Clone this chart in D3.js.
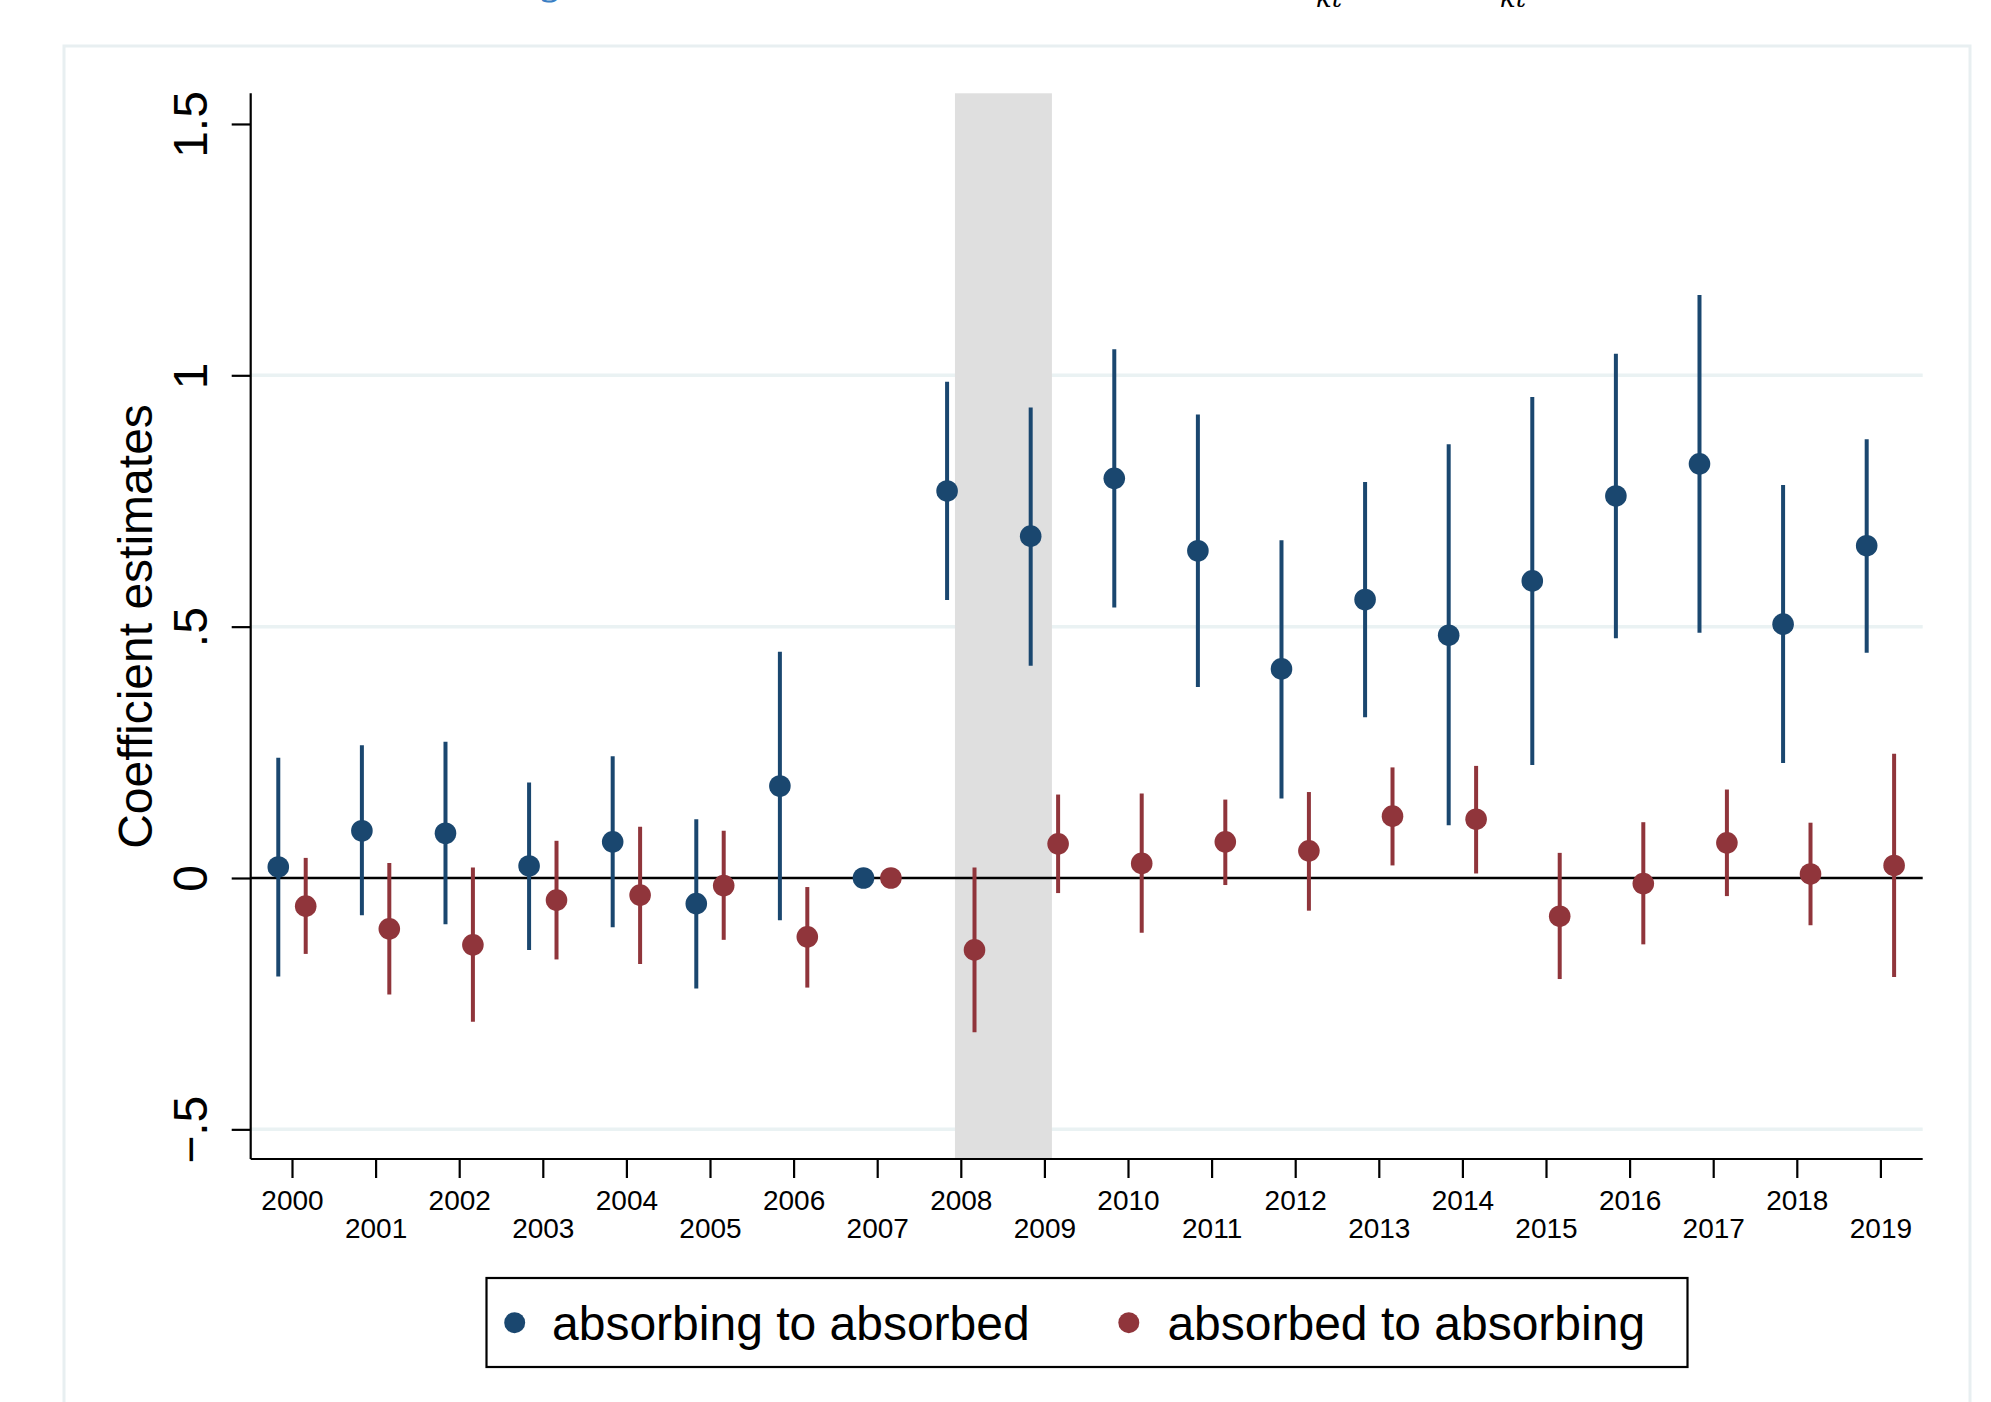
<!DOCTYPE html>
<html>
<head>
<meta charset="utf-8">
<script src="https://cdn.jsdelivr.net/npm/d3@7"></script>
<style>
  html, body { margin: 0; padding: 0; background: #ffffff; }
  svg { display: block; }
  text { font-family: "Liberation Sans", Arial, Helvetica, sans-serif; }
</style>
</head>
<body>
<svg id="chart" width="1991" height="1402"></svg>
<script>
// ---------------- data ----------------
const years = [2000, 2001, 2002, 2003, 2004, 2005, 2006, 2007, 2008, 2009,
               2010, 2011, 2012, 2013, 2014, 2015, 2016, 2017, 2018, 2019];

// absorbing to absorbed (blue)
const blueCoef = [0.022, 0.094, 0.089, 0.024, 0.072, -0.051, 0.183, 0, 0.770, 0.680,
                  0.795, 0.651, 0.416, 0.554, 0.483, 0.591, 0.760, 0.824, 0.505, 0.661];
const blueLo   = [-0.196, -0.074, -0.092, -0.143, -0.098, -0.220, -0.084, null, 0.553, 0.422,
                  0.538, 0.380, 0.158, 0.320, 0.105, 0.225, 0.477, 0.488, 0.229, 0.448];
const blueHi   = [0.239, 0.264, 0.271, 0.190, 0.242, 0.117, 0.450, null, 0.987, 0.936,
                  1.052, 0.922, 0.672, 0.788, 0.863, 0.957, 1.043, 1.160, 0.782, 0.873];

// absorbed to absorbing (red)
const redCoef = [-0.056, -0.101, -0.133, -0.044, -0.034, -0.015, -0.117, 0, -0.143, 0.068,
                 0.029, 0.072, 0.054, 0.123, 0.117, -0.076, -0.011, 0.070, 0.008, 0.025];
const redLo   = [-0.151, -0.232, -0.286, -0.162, -0.171, -0.123, -0.218, null, -0.307, -0.030,
                 -0.109, -0.014, -0.065, 0.025, 0.009, -0.201, -0.132, -0.036, -0.094, -0.197];
const redHi   = [0.040, 0.030, 0.021, 0.074, 0.102, 0.094, -0.018, null, 0.021, 0.166,
                 0.168, 0.156, 0.171, 0.220, 0.223, 0.050, 0.111, 0.176, 0.110, 0.247];

const yTicks = [-0.5, 0, 0.5, 1, 1.5];
const yTickLabels = ["\u2212.5", "0", ".5", "1", "1.5"];
const gridValues = [-0.5, 0.5, 1];
const shadeRange = [2007.93, 2009.09];
const seriesNames = ["absorbing to absorbed", "absorbed to absorbing"];
const yTitle = "Coefficient estimates";

// ---------------- layout ----------------
const colors = { blue: "#1a476f", red: "#90353b" };
const svg = d3.select("#chart");

// outer graph-region frame
svg.append("rect")
  .attr("x", 64).attr("y", 46).attr("width", 1906).attr("height", 1380)
  .attr("fill", "#ffffff").attr("stroke", "#e8eff1").attr("stroke-width", 3);

// cut-off caption fragments at the very top (only their lower edges show, as in the reference)
svg.append("text").attr("x", 538).attr("y", -6).attr("fill", "#3a7fc4")
  .style("font-size", "40px").style("font-family", "'DejaVu Serif', serif").text("g");
svg.append("text").attr("x", 1316).attr("y", 7).attr("fill", "#000")
  .style("font-size", "26px").style("font-style", "italic")
  .style("font-family", "'DejaVu Serif', serif").text("kt");
svg.append("text").attr("x", 1500).attr("y", 7).attr("fill", "#000")
  .style("font-size", "26px").style("font-style", "italic")
  .style("font-family", "'DejaVu Serif', serif").text("kt");

const plotLeft = 250.7, plotRight = 1922.7, plotTop = 93.3, plotBottom = 1159;

const x = d3.scaleLinear().domain([1999.506, 2019.506]).range([plotLeft, plotRight]);
const y = d3.scaleLinear().domain([-0.559, 1.561]).range([plotBottom, plotTop]);
const offset = 0.164;

// gridlines
svg.append("g").selectAll("line").data(gridValues).join("line")
  .attr("x1", plotLeft).attr("x2", plotRight)
  .attr("y1", d => y(d)).attr("y2", d => y(d))
  .attr("stroke", "#eaf2f3").attr("stroke-width", 3.5);

// shaded recession band
svg.append("rect")
  .attr("x", x(shadeRange[0])).attr("width", x(shadeRange[1]) - x(shadeRange[0]))
  .attr("y", plotTop).attr("height", plotBottom - plotTop)
  .attr("fill", "#dfdfdf");

// zero line
svg.append("line")
  .attr("x1", plotLeft).attr("x2", plotRight)
  .attr("y1", y(0)).attr("y2", y(0))
  .attr("stroke", "#000").attr("stroke-width", 2.4);

function buildSeries(coef, lo, hi, shift) {
  return years.map((yr, i) => ({ yr: yr + shift, c: coef[i], lo: lo[i], hi: hi[i] }));
}
const series = [
  { data: buildSeries(blueCoef, blueLo, blueHi, -offset), color: colors.blue },
  { data: buildSeries(redCoef, redLo, redHi, offset), color: colors.red }
];

series.forEach(s => {
  const g = svg.append("g");
  g.selectAll("line").data(s.data.filter(d => d.lo !== null)).join("line")
    .attr("x1", d => x(d.yr)).attr("x2", d => x(d.yr))
    .attr("y1", d => y(d.lo)).attr("y2", d => y(d.hi))
    .attr("stroke", s.color).attr("stroke-width", 4);
  g.selectAll("circle").data(s.data).join("circle")
    .attr("cx", d => x(d.yr)).attr("cy", d => y(d.c)).attr("r", 10.8)
    .attr("fill", s.color);
});

// y axis
const yAxis = svg.append("g").attr("transform", `translate(${plotLeft},0)`)
  .call(d3.axisLeft(y).tickValues(yTicks).tickSize(19)
        .tickFormat((d, i) => yTickLabels[i]));
yAxis.select(".domain").attr("d", `M0,${plotTop}V${plotBottom}`)
  .attr("stroke", "#000").attr("stroke-width", 2.2);
yAxis.selectAll(".tick line").attr("stroke", "#000").attr("stroke-width", 2.2);
yAxis.selectAll(".tick text")
  .attr("x", null).attr("dy", null)
  .attr("text-anchor", "middle")
  .attr("transform", "translate(-43.4,0) rotate(-90)")
  .attr("fill", "#000")
  .style("font-size", "48px")
  .style("font-family", "'Liberation Sans', Arial, sans-serif");

// x axis
const xAxis = svg.append("g").attr("transform", `translate(0,${plotBottom})`)
  .call(d3.axisBottom(x).tickValues(years).tickSize(19).tickFormat(d3.format("d")));
xAxis.select(".domain").attr("d", `M${plotLeft},0H${plotRight}`)
  .attr("stroke", "#000").attr("stroke-width", 2.2);
xAxis.selectAll(".tick line").attr("stroke", "#000").attr("stroke-width", 2.2);
xAxis.selectAll(".tick text")
  .attr("dy", null)
  .attr("y", d => (d % 2 === 0 ? 51 : 79))
  .attr("fill", "#000")
  .style("font-size", "28px")
  .style("font-family", "'Liberation Sans', Arial, sans-serif");

// y title
svg.append("text")
  .attr("transform", `translate(152,626.5) rotate(-90)`)
  .attr("text-anchor", "middle")
  .attr("fill", "#000")
  .style("font-size", "48px")
  .text(yTitle);

// legend
const legend = svg.append("g");
legend.append("rect")
  .attr("x", 486.5).attr("y", 1278).attr("width", 1201).attr("height", 89)
  .attr("fill", "#fff").attr("stroke", "#000").attr("stroke-width", 2.2);
const legItems = [
  { name: seriesNames[0], color: colors.blue, mx: 514.7, tx: 552 },
  { name: seriesNames[1], color: colors.red, mx: 1128.8, tx: 1167.4 }
];
legItems.forEach(it => {
  legend.append("circle").attr("cx", it.mx).attr("cy", 1322.7).attr("r", 10.5).attr("fill", it.color);
  legend.append("text").attr("x", it.tx).attr("y", 1340)
    .attr("fill", "#000").style("font-size", "48px").text(it.name);
});
</script>
</body>
</html>
